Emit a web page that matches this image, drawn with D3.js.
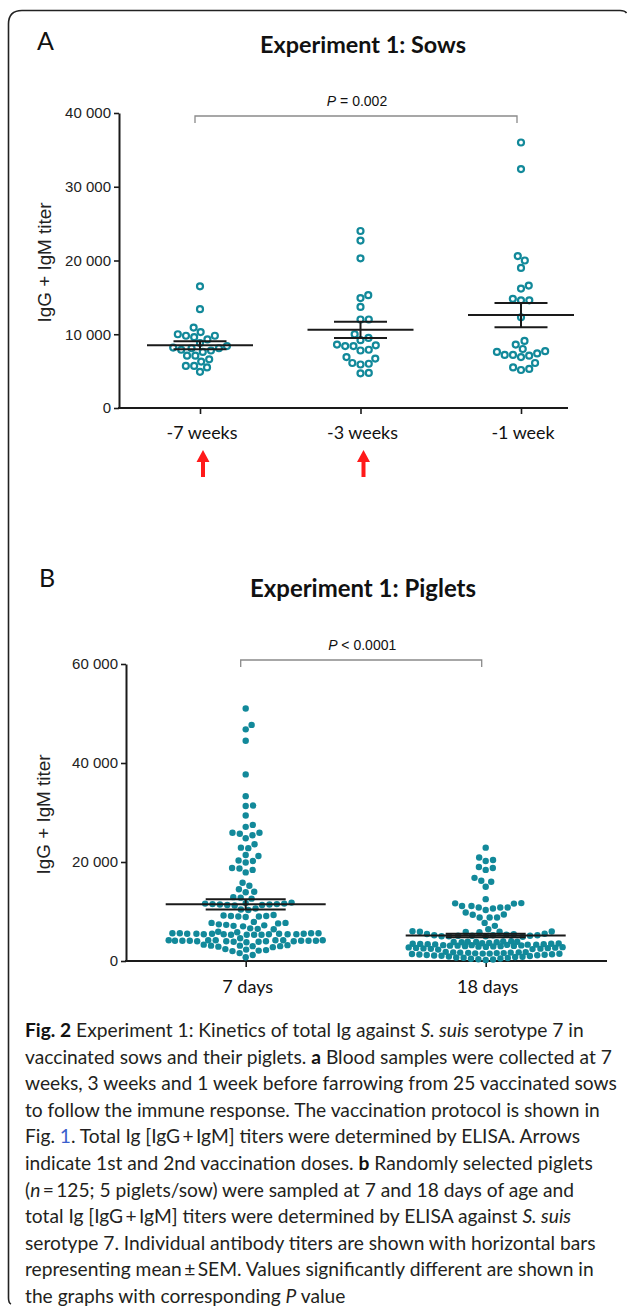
<!DOCTYPE html>
<html><head><meta charset="utf-8">
<script src="https://cdn.jsdelivr.net/npm/d3@7"></script>
<style>body{margin:0;background:#fff} svg{display:block}</style>
</head><body>
<svg id="c" width="627" height="1309"></svg>
<script>
// ---------------- DATA (titers in thousands) ----------------
const sowCategories = ["-7 weeks", "-3 weeks", "-1 week"];
const sows7w = [16.5, 13.4, 10.9, 10.3, 10.0, 9.8, 9.8, 9.6, 9.3, 8.8, 8.4, 8.2, 8.1, 8.1, 7.9, 7.8, 7.6, 7.1, 7.1, 6.6, 6.3, 5.7, 5.7, 5.5, 4.9];
const sows3w = [24.0, 22.7, 20.3, 15.3, 14.9, 13.7, 12.0, 12.0, 10.0, 9.5, 9.2, 8.5, 8.4, 8.4, 8.6, 7.8, 7.9, 6.7, 6.9, 6.0, 5.9, 6.1, 4.7, 4.75];
const sows1w = [36.0, 32.4, 20.6, 20.0, 19.0, 16.6, 16.2, 14.8, 14.6, 14.6, 12.3, 9.1, 8.6, 8.0, 7.6, 7.2, 7.1, 6.9, 7.2, 7.4, 7.7, 6.1, 5.5, 5.15, 5.3];
const sowMeans = [8.5, 10.6, 12.6];
const sowSEM = [0.55, 1.1, 1.65];
const sowTicks = [0, 10, 20, 30, 40];
const sowTickLabels = ["0", "10 000", "20 000", "30 000", "40 000"];
const vaccinationArrows = ["-7 weeks", "-3 weeks"];
const sowComparison = ["-7 weeks", "-1 week"];
const sowP = "= 0.002";

const pigletCategories = ["7 days", "18 days"];
const piglets7d = [
  51.0, 47.7, 46.8, 44.5, 37.7, 33.3, 31.4, 31.3, 29.4, 27.5, 27.1, 25.9, 25.9, 25.7, 24.8, 25.4, 23.6, 22.9, 22.8, 21.4,
  21.2, 20.3, 19.9, 20.2, 18.8, 18.4, 18.7, 17.9, 15.8, 15.2, 14.0, 13.9, 14.5, 12.9, 12.8, 12.6,
  11.8, 11.6, 11.5, 11.4, 11.3, 11.6, 11.2, 11.7, 11.4, 11.5, 11.3,
  10.6, 10.4, 10.3,
  9.2, 9.1, 9.0, 8.9, 9.0, 9.1, 9.3,
  7.9,
  7.7, 7.6, 7.1, 7.0, 7.2, 7.3, 7.4, 7.7,
  6.5, 6.6, 6.4,
  5.9, 5.8,
  5.3, 5.4, 5.5, 5.6, 5.4, 5.3, 5.5, 5.6, 5.4, 5.5, 5.3, 5.6, 5.4, 5.5, 5.4, 5.3, 5.5, 5.6,
  4.6,
  4.0, 4.1, 4.2, 4.2, 3.9, 4.1, 4.2, 4.0, 4.1, 4.1, 3.9, 4.2, 4.0, 4.1, 4.2, 3.8, 4.2, 4.0, 4.1,
  3.3, 3.1, 2.9, 3.0, 3.2, 2.8, 3.1, 3.0,
  2.3, 2.1, 2.2, 2.4, 2.0,
  1.6, 1.2, 0.75
];
const piglets18d = [
  22.9, 20.4, 20.9, 20.2, 19.0, 18.4, 18.8, 16.8, 16.0, 16.2, 15.0, 12.5, 11.65, 11.6, 11.7, 10.8, 10.8, 10.8, 11.1, 11.1,
  10.6, 10.3, 9.8, 9.35, 9.4, 8.8, 8.8, 8.8, 7.7, 7.1, 6.4,
  5.8, 5.9, 5.9, 6.0, 5.85, 5.95,
  5.4, 5.5, 5.45,
  5.0, 5.1, 5.2, 5.0, 5.1, 5.3, 4.9, 5.2, 5.0, 5.1, 5.2,
  3.8, 3.85, 3.9, 3.8, 3.95, 3.85, 3.9, 4.0,
  2.3, 2.4, 2.45, 2.5, 2.55, 2.6, 2.65, 2.7, 2.75, 2.8, 2.85, 2.9, 2.95, 3.0, 3.0, 3.05, 3.1, 3.1, 3.15, 3.2,
  3.2, 3.25, 3.3, 3.3, 3.35, 3.4, 3.4, 3.45, 3.5, 3.5, 3.55, 3.6, 3.65,
  0.2, 0.3, 0.35, 0.45, 0.5, 0.6, 0.65, 0.7, 0.8, 0.85, 0.9, 1.0, 1.05, 1.1, 1.15, 1.2, 1.25, 1.3, 1.35, 1.4,
  1.45, 1.5, 1.5, 1.55, 1.6, 1.6, 1.65, 1.7, 1.7, 1.75, 1.75, 1.8, 1.85
];
const pigletMeans = [11.45, 5.15];
const pigletSEM = [1.05, 0.35];
const pigletTicks = [0, 20, 40, 60];
const pigletTickLabels = ["0", "20 000", "40 000", "60 000"];
const pigletComparison = ["7 days", "18 days"];
const pigletP = "< 0.0001";

const captionLines = [
  [["Fig. 2", "b"], [" Experiment 1: Kinetics of total Ig against "], ["S. suis", "i"], [" serotype 7 in"]],
  [["vaccinated sows and their piglets. "], ["a", "b"], [" Blood samples were collected at 7"]],
  [["weeks, 3 weeks and 1 week before farrowing from 25 vaccinated sows"]],
  [["to follow the immune response. The vaccination protocol is shown in"]],
  [["Fig. "], ["1", "l"], [". Total Ig [IgG\u2009+\u2009IgM] titers were determined by ELISA. Arrows"]],
  [["indicate 1st and 2nd vaccination doses. "], ["b", "b"], [" Randomly selected piglets"]],
  [["("], ["n", "i"], ["\u2009=\u2009125; 5 piglets/sow) were sampled at 7 and 18 days of age and"]],
  [["total Ig [IgG\u2009+\u2009IgM] titers were determined by ELISA against "], ["S. suis", "i"]],
  [["serotype 7. Individual antibody titers are shown with horizontal bars"]],
  [["representing mean\u2009\u00b1\u2009SEM. Values significantly different are shown in"]],
  [["the graphs with corresponding "], ["P", "i"], [" value"]]
];

// ---------------- DRAWING ----------------
const svg = d3.select("#c");
const TEAL = "#12899a";
const SANS = "'Liberation Sans', Arial, sans-serif";
const HUM = "Lato, 'Open Sans', sans-serif";

function fitSize(text, family, weight, target) {
  const t = svg.append("text").attr("font-family", family).attr("font-weight", weight)
    .attr("font-size", 100).text(text);
  const w = t.node().getComputedTextLength();
  t.remove();
  return 100 * target / w;
}

// frame
svg.append("path")
  .attr("d", "M 11,1304 Q 8.5,1303 8.5,1298 L 8.5,24 Q 8.5,10.5 22,10.5 L 620,10.5 Q 625,10.5 626.5,13")
  .attr("fill", "none").attr("stroke", "#222").attr("stroke-width", 1.6);

function swarm(vals, y, d, maxHalf) {
  const pts = vals.map(v => ({ v, y: y(v) })).sort((a, b) => a.v - b.v);
  const placed = [];
  pts.forEach(p => {
    const near = placed.filter(q => Math.abs(q.y - p.y) < d);
    const cands = [0];
    near.forEach(q => {
      const dx = Math.sqrt(d * d - (q.y - p.y) ** 2);
      cands.push(q.x + dx, q.x - dx);
    });
    cands.sort((a, b) => Math.abs(a) - Math.abs(b));
    let x = null;
    for (const c of cands) {
      if (Math.abs(c) > maxHalf) continue;
      if (near.every(q => (q.x - c) ** 2 + (q.y - p.y) ** 2 >= d * d - 1e-6)) { x = c; break; }
    }
    if (x === null) {
      let best = -1;
      for (let c = -maxHalf; c <= maxHalf; c += 0.5) {
        const m = d3.min(near, q => Math.hypot(q.x - c, q.y - p.y));
        if (m > best + 1e-9) { best = m; x = c; }
      }
    }
    p.x = x; placed.push(p);
  });
  return pts;
}

function panel(cfg) {
  const g = svg.append("g");
  const y = d3.scaleLinear().domain([cfg.ticks[0], cfg.ticks[cfg.ticks.length - 1]]).range(cfg.yRange);
  const x = d3.scalePoint().domain(cfg.cats).range(cfg.xRange);

  // panel letter & title
  g.append("text").attr("x", cfg.letterX).attr("y", cfg.letterY).attr("font-family", HUM)
    .attr("font-size", 25).attr("fill", "#111").text(cfg.letter);
  const ts = fitSize(cfg.title, HUM, 700, cfg.titleW);
  g.append("text").attr("x", 363).attr("y", cfg.titleY).attr("text-anchor", "middle")
    .attr("font-family", HUM).attr("font-weight", 700).attr("font-size", ts).attr("fill", "#111").text(cfg.title);

  // y axis
  const ya = g.append("g").attr("transform", `translate(${cfg.axisX},0)`)
    .call(d3.axisLeft(y).tickValues(cfg.ticks).tickFormat((d, i) => cfg.tickLabels[i]).tickSize(5).tickSizeOuter(0).tickPadding(3));
  ya.select(".domain").attr("stroke", "#1a1a1a").attr("stroke-width", 2);
  ya.selectAll(".tick line").attr("stroke", "#1a1a1a").attr("stroke-width", 1.6);
  ya.selectAll(".tick text").attr("font-family", SANS).attr("font-size", 15).attr("fill", "#222");

  const ls = fitSize("IgG + IgM titer", SANS, 400, 120);
  g.append("text").attr("transform", `translate(${cfg.labelX},${(cfg.yRange[0] + cfg.yRange[1]) / 2 + 2}) rotate(-90)`)
    .attr("text-anchor", "middle").attr("font-family", SANS).attr("font-size", ls).attr("fill", "#222").text("IgG + IgM titer");

  // x axis
  g.append("line").attr("x1", cfg.axisX - 1).attr("x2", cfg.axisEnd).attr("y1", y(0)).attr("y2", y(0))
    .attr("stroke", "#1a1a1a").attr("stroke-width", 2);
  const xa = g.append("g").attr("transform", `translate(0,${y(0)})`)
    .call(d3.axisBottom(x).tickSize(6).tickFormat(""));
  xa.select(".domain").remove();
  xa.selectAll(".tick line").attr("stroke", "#1a1a1a").attr("stroke-width", 1.6);
  const cs = fitSize(cfg.cats[0], HUM, 400, cfg.catW);
  g.selectAll(".cat").data(cfg.cats).join("text").attr("class", "cat")
    .attr("x", d => x(d) + 2).attr("y", cfg.catY).attr("text-anchor", "middle")
    .attr("font-family", HUM).attr("font-size", cs).attr("fill", "#111").text(d => d);

  // points
  cfg.series.forEach((vals, i) => {
    const cx = x(cfg.cats[i]);
    const pts = swarm(vals, y, cfg.d, cfg.maxHalf);
    g.append("g").selectAll("circle").data(pts).join("circle")
      .attr("cx", p => cx + p.x).attr("cy", p => p.y).attr("r", cfg.r)
      .attr("fill", cfg.open ? "#fff" : TEAL)
      .attr("stroke", cfg.open ? TEAL : "none").attr("stroke-width", cfg.open ? 2.2 : 0);
  });

  // mean +- SEM
  const mg = g.append("g").attr("stroke", "#1a1a1a").attr("stroke-width", 2);
  cfg.cats.forEach((c, i) => {
    const cx = x(c), m = cfg.means[i], s = cfg.sem[i];
    mg.append("line").attr("x1", cx - cfg.meanHalf).attr("x2", cx + cfg.meanHalf).attr("y1", y(m)).attr("y2", y(m));
    mg.append("line").attr("x1", cx - cfg.meanHalf / 2).attr("x2", cx + cfg.meanHalf / 2).attr("y1", y(m + s)).attr("y2", y(m + s));
    mg.append("line").attr("x1", cx - cfg.meanHalf / 2).attr("x2", cx + cfg.meanHalf / 2).attr("y1", y(m - s)).attr("y2", y(m - s));
    mg.append("line").attr("x1", cx).attr("x2", cx).attr("y1", y(m + s)).attr("y2", y(m - s));
  });

  // significance bracket
  const bx1 = x(cfg.comparison[0]) - 5, bx2 = x(cfg.comparison[1]) - 4;
  const by = cfg.bracketY;
  g.append("path").attr("d", `M${bx1},${by + 7} L${bx1},${by} L${bx2},${by} L${bx2},${by + 7}`)
    .attr("fill", "none").attr("stroke", "#8a8a8a").attr("stroke-width", 1.3);
  const pt = g.append("text").attr("x", (bx1 + bx2) / 2 + 1).attr("y", by - 10).attr("text-anchor", "middle")
    .attr("font-family", SANS).attr("font-size", 14).attr("fill", "#111");
  pt.append("tspan").attr("font-style", "italic").text("P");
  pt.append("tspan").text(" " + cfg.p);

  return { g, x, y };
}

const A = panel({
  letter: "A", letterX: 37, letterY: 50, title: "Experiment 1: Sows", titleW: 206, titleY: 53,
  cats: sowCategories, series: [sows7w, sows3w, sows1w], means: sowMeans, sem: sowSEM,
  ticks: sowTicks, tickLabels: sowTickLabels, yRange: [408, 113], xRange: [200, 521],
  axisX: 119, axisEnd: 568, catY: 439, catW: 71, labelX: 51,
  r: 3.0, open: true, d: 8.3, maxHalf: 40, meanHalf: 53,
  comparison: sowComparison, p: sowP, bracketY: 116
});

// vaccination arrows
A.g.selectAll(".arrow").data(vaccinationArrows).join("path").attr("class", "arrow")
  .attr("d", d => {
    const cx = A.x(d) + 3;
    return `M${cx},450 L${cx + 6.5},462 L${cx + 2},462 L${cx + 2},477 L${cx - 2},477 L${cx - 2},462 L${cx - 6.5},462 Z`;
  })
  .attr("fill", "#ff1a1a");

panel({
  letter: "B", letterX: 39, letterY: 587, title: "Experiment 1: Piglets", titleW: 226, titleY: 597,
  cats: pigletCategories, series: [piglets7d, piglets18d], means: pigletMeans, sem: pigletSEM,
  ticks: pigletTicks, tickLabels: pigletTickLabels, yRange: [961, 664], xRange: [245.7, 485.7],
  axisX: 126, axisEnd: 607, catY: 993, catW: 51, labelX: 50,
  r: 3.2, open: false, d: 7.4, maxHalf: 77, meanHalf: 80,
  comparison: pigletComparison, p: pigletP, bracketY: 660
});

// caption
const capFS = fitSize(captionLines[1].map(s => s[0]).join(""), HUM, 400, 587);
const cap = svg.append("g").attr("font-family", HUM).attr("font-size", capFS).attr("fill", "#231f20");
captionLines.forEach((line, i) => {
  const t = cap.append("text").attr("x", 25).attr("y", 1037 + i * 26.6);
  line.forEach(([txt, st]) => {
    const s = t.append("tspan").text(txt);
    if (st === "b") s.attr("font-weight", 700).attr("fill", "#111");
    if (st === "i") s.attr("font-style", "italic");
    if (st === "l") s.attr("fill", "#3a5fcd");
  });
});
</script>
</body></html>
